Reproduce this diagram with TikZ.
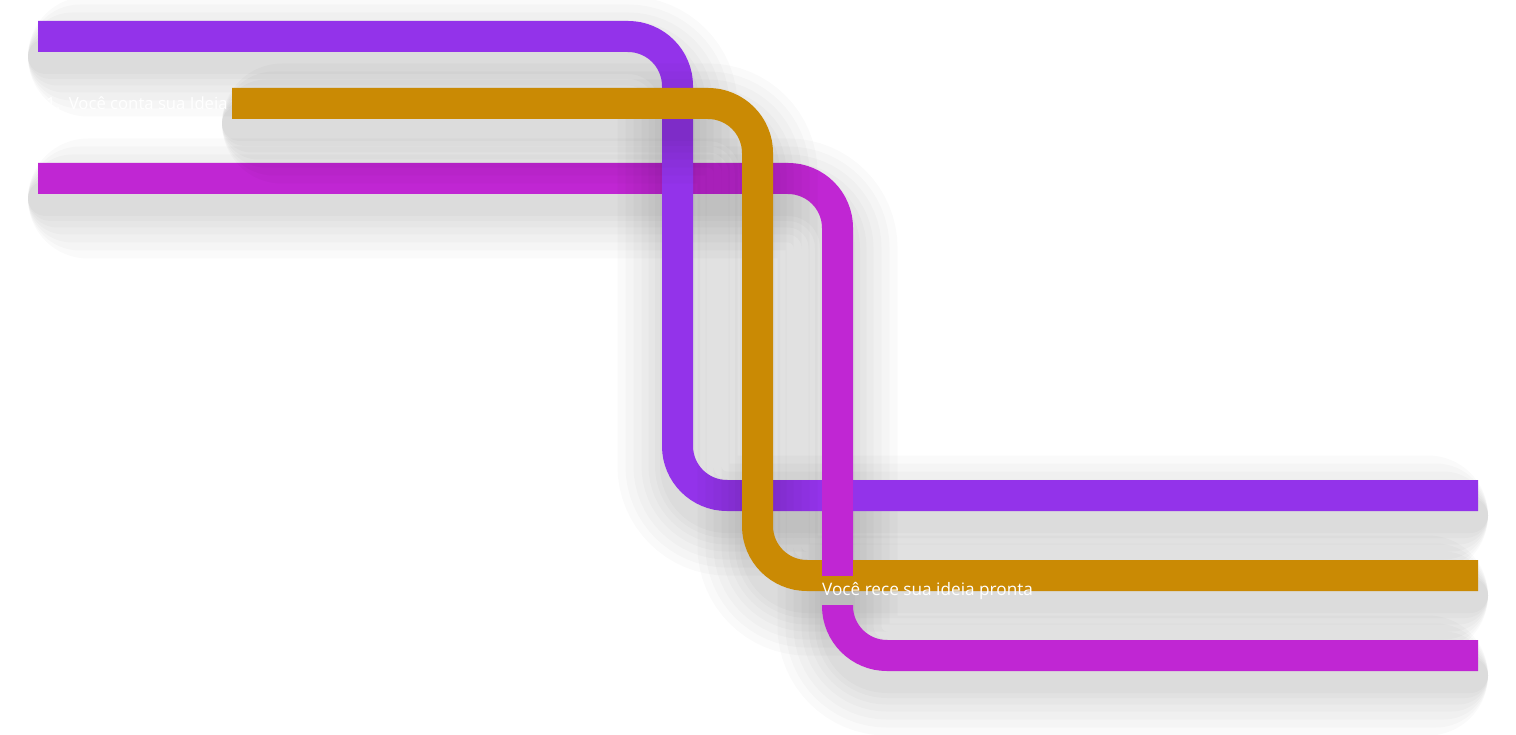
\documentclass[tikz,border=0pt]{standalone}
\usepackage{fontspec}
\setmainfont{Open Sans}
\definecolor{lpurple}{HTML}{9333EA}
\definecolor{lorange}{HTML}{CA8A04}
\definecolor{lmagenta}{HTML}{C026D3}
\tikzset{
  sdwline/.style={draw=black,draw opacity=0.02,rounded corners=49.5pt,line cap=round,transform canvas={yshift=-20pt}},
  band/.style={line width=31pt,rounded corners=49.5pt,line cap=butt},
  lbl/.style={anchor=west,text=white,font=\fontsize{17.2}{20}\selectfont,inner sep=0pt}
}
\newcommand\sdw[1]{\foreach \w in {120,104,88,72,58,45,35}{%
  \pgfmathsetmacro\sh{\w/2-10}%
  \draw[sdwline,line width=\w pt,shorten <=\sh pt,shorten >=\sh pt] #1;}}
\begin{document}
\begin{tikzpicture}[x=1pt,y=-1pt]
\useasboundingbox (0,0) rectangle (1516,735);
\fill[white] (0,0) rectangle (1516,735);
% coordinates
\coordinate (m1) at (38,178.5);
\coordinate (m2) at (837.5,178.5);
\coordinate (m3) at (837.5,576);
\coordinate (p1) at (38,36.5);
\coordinate (p2) at (677.5,36.5);
\coordinate (p3) at (677.5,495.5);
\coordinate (p4) at (1478,495.5);
\coordinate (o1) at (232,103.5);
\coordinate (o2) at (757.5,103.5);
\coordinate (o3) at (757.5,575.5);
\coordinate (o4) at (1478,575.5);
\coordinate (m4) at (837.5,300);
\coordinate (m5) at (837.5,605);
\coordinate (m6) at (837.5,655.5);
\coordinate (m7) at (1478,655.5);
% magenta top part (under the others)
\sdw{(m1) -- (m2) -- (m6) -- (m7)}
\draw[band,draw=lmagenta] (m1) -- (m2) -- (m3);
% purple
\sdw{(p1) -- (p2) -- (p3) -- (p4)}
\draw[band,draw=lpurple] (p1) -- (p2) -- (p3) -- (p4);
% orange
\sdw{(o1) -- (o2) -- (o3) -- (o4)}
\draw[band,draw=lorange] (o1) -- (o2) -- (o3) -- (o4);
% magenta vertical on top at bottom
\draw[band,draw=lmagenta] (m4) -- (m3);
% magenta lower part
\draw[band,draw=lmagenta] (m5) -- (m6) -- (m7);
% labels
\node[lbl,font=\fontsize{16.7}{20}\selectfont] (t1) at (46,103) {1.\ \ Você conta sua Ideia};
\node[lbl] (t2) at (822,591) {Você rece sua ideia pronta};
\end{tikzpicture}
\end{document}
